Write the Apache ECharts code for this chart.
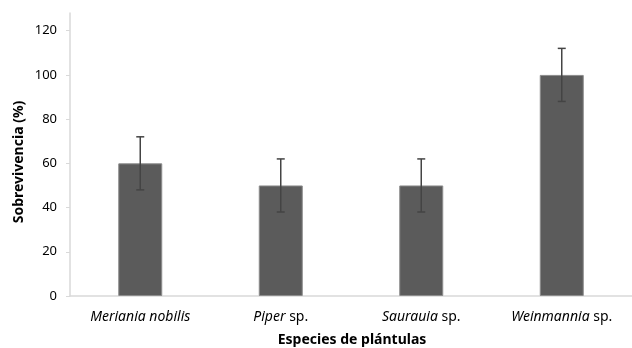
<!DOCTYPE html>
<html><head><meta charset="utf-8">
<script src="https://cdn.jsdelivr.net/npm/echarts@6/dist/echarts.min.js"></script>
<style>html,body{margin:0;padding:0;background:#fff}#c{width:632px;height:348px}</style>
</head><body><div id="c"></div>
<script>
const categories = ['Meriania nobilis', 'Piper sp.', 'Saurauia sp.', 'Weinmannia sp.'];
const italicPart = ['Meriania nobilis', 'Piper', 'Saurauia', 'Weinmannia'];
const plainPart = ['', ' sp.', ' sp.', ' sp.'];
const survival = [60, 50, 50, 100];
const errorSD = [12, 12, 12, 12];
const yTicks = [0, 20, 40, 60, 80, 100, 120];

const chart = echarts.init(document.getElementById('c'));
const font = 'Noto Sans';
chart.setOption({
  animation: false,
  grid: {left: 70, right: 0, top: 13, bottom: 52},
  xAxis: {
    type: 'category', data: categories,
    axisLine: {lineStyle: {color: '#d9d9d9', width: 1.5}},
    axisTick: {show: false},
    axisLabel: {
      interval: 0,
      margin: 14,
      formatter: (v, i) => '{i|' + italicPart[i] + '}' + (plainPart[i] ? '{n|' + plainPart[i] + '}' : ''),
      rich: {
        i: {fontStyle: 'italic', fontFamily: font, fontSize: 14, color: '#000'},
        n: {fontFamily: font, fontSize: 14, color: '#000'}
      }
    }
  },
  yAxis: {
    type: 'value', min: 0, max: 128, interval: 20,
    splitLine: {show: false},
    axisLine: {show: true, lineStyle: {color: '#d9d9d9', width: 1.5}},
    axisTick: {show: true, length: 4, lineStyle: {color: '#d9d9d9'}, customValues: yTicks},
    axisLabel: {customValues: yTicks, fontFamily: font, fontSize: 13, color: '#000', margin: 13}
  },
  graphic: [
    {type: 'text', x: 19, y: 162, rotation: Math.PI / 2,
     style: {text: 'Sobrevivencia (%)', font: 'bold 14px "Noto Sans"', fill: '#000', align: 'center', verticalAlign: 'middle'}},
    {type: 'text', x: 352, y: 340,
     style: {text: 'Especies de plántulas', font: 'bold 14px "Noto Sans"', fill: '#000', align: 'center', verticalAlign: 'middle'}}
  ],
  series: [
    {type: 'bar', data: survival, barWidth: 44,
     itemStyle: {color: '#5b5b5b', borderColor: '#8c8c8c', borderWidth: 1}},
    {type: 'custom', z: 10,
     data: survival.map((v, i) => [i, v - errorSD[i], v + errorSD[i]]),
     renderItem: (params, api) => {
       const lo = api.coord([api.value(0), api.value(1)]);
       const hi = api.coord([api.value(0), api.value(2)]);
       const w = 4;
       const st = {stroke: '#444', lineWidth: 1.5};
       return {type: 'group', children: [
         {type: 'line', shape: {x1: hi[0], y1: hi[1], x2: lo[0], y2: lo[1]}, style: st},
         {type: 'line', shape: {x1: hi[0] - w, y1: hi[1], x2: hi[0] + w, y2: hi[1]}, style: st},
         {type: 'line', shape: {x1: lo[0] - w, y1: lo[1], x2: lo[0] + w, y2: lo[1]}, style: st}
       ]};
     }}
  ]
});
</script></body></html>
